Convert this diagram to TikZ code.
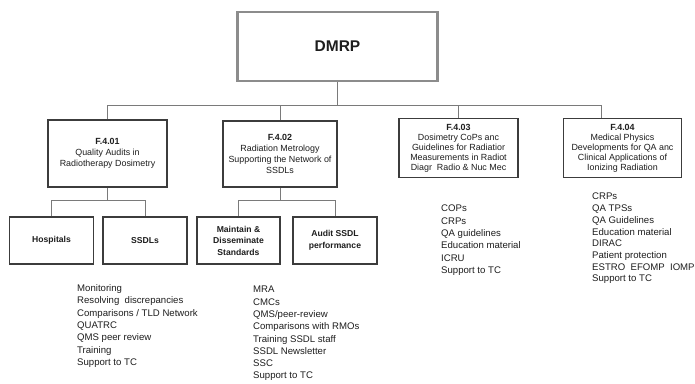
\documentclass[tikz,border=0pt]{standalone}
\usepackage{fontspec}
\setmainfont{Liberation Sans}
\definecolor{boxline}{HTML}{3C3C3C}
\definecolor{topline}{HTML}{8C8C8C}
\definecolor{conn}{HTML}{7A7A7A}
\definecolor{txt}{HTML}{1E1E1E}
\begin{document}
\begin{tikzpicture}[x=1pt,y=-1pt,
  box/.style={draw=boxline,line width=1.2pt,inner sep=0pt,align=center,text=txt},
  topbox/.style={draw=topline,line width=2.2pt,inner sep=0pt,align=center,text=txt,
    minimum width=200pt,minimum height=69pt,font=\fontsize{15.5}{18}\selectfont\bfseries},
  unit/.style={box,font=\fontsize{8.9}{11}\selectfont},
  unitb/.style={box,font=\fontsize{8.9}{10}\selectfont},
  sub/.style={box,minimum width=84pt,minimum height=47pt,font=\fontsize{8.6}{11.5}\selectfont\bfseries},
  conn/.style={draw=conn,line width=0.9pt},
  list/.style={anchor=north west,inner sep=0pt,align=left,text=txt,font=\fontsize{9.6}{12.3}\selectfont}]
\useasboundingbox (0,0) rectangle (695,383);
\fill[white] (0,0) rectangle (695,383);

\node[topbox] (dmrp) at (337.5,46.5) {DMRP};

\node[unit,minimum width=119pt,minimum height=67pt] (f401) at (107.5,153.5)
  {\textbf{F.4.01}\\Quality Audits in\\Radiotherapy Dosimetry};
\node[unit,minimum width=114pt,minimum height=66pt] (f402) at (280,154)
  {\textbf{F.4.02}\\Radiation Metrology\\Supporting the Network of\\SSDLs};
\node[unitb,minimum width=119pt,minimum height=59pt] (f403) at (458.5,148)
  {\textbf{F.4.03}\\Dosimetry CoPs anc\\Guidelines for Radiatior\\Measurements in Radiot\\Diagr\ \ Radio \& Nuc Mec};
\node[unitb,minimum width=118pt,minimum height=59pt] (f404) at (622.5,148)
  {\textbf{F.4.04}\\Medical Physics\\Developments for QA anc\\Clinical Applications of\\Ionizing Radiation};

\node[sub] (hosp) at (51.5,240.5) {Hospitals};
\node[sub] (ssdl) at (145,240.5) {SSDLs};
\node[sub,minimum width=83pt] (maint) at (238.5,240.5) {Maintain \&\\Disseminate\\Standards};
\node[sub] (audit) at (335,240.5) {Audit SSDL\\performance};

% top bus
\coordinate (bus) at (337,105.5);
\draw[conn] (dmrp.south -| bus) -- (bus);
\draw[conn] (f401.north) |- (bus);
\draw[conn] (f402.north) -- (f402.north |- bus);
\draw[conn] (bus) -| (f403.north);
\coordinate (c404) at (601,105.5);
\draw[conn] (bus) -- (c404) -- (c404 |- f404.north);

% sub buses
\coordinate (b1) at (107.5,200.5);
\draw[conn] (f401.south) -- (b1);
\draw[conn] (hosp.north) |- (b1) -| (ssdl.north);
\coordinate (b2) at (280,200.5);
\draw[conn] (f402.south) -- (b2);
\draw[conn] (maint.north) |- (b2) -| (audit.north);

% lists
\node[list] (l1) at (77,284.5) {Monitoring\\Resolving\ \ discrepancies\\Comparisons / TLD Network\\QUATRC\\QMS peer review\\Training\\Support to TC};
\node[list] (l2) at (253,286) {MRA\\CMCs\\QMS/peer-review\\Comparisons with RMOs\\Training SSDL staff\\SSDL Newsletter\\SSC\\Support to TC};
\node[list] (l3) at (441,205) {COPs\\CRPs\\QA guidelines\\Education material\\ICRU\\Support to TC};
\node[list,font=\fontsize{9.6}{11.7}\selectfont] (l4) at (592,193) {CRPs\\QA TPSs\\QA Guidelines\\Education material\\DIRAC\\Patient protection\\ESTRO\ \ EFOMP\ \ IOMP\\Support to TC};
\end{tikzpicture}
\end{document}
